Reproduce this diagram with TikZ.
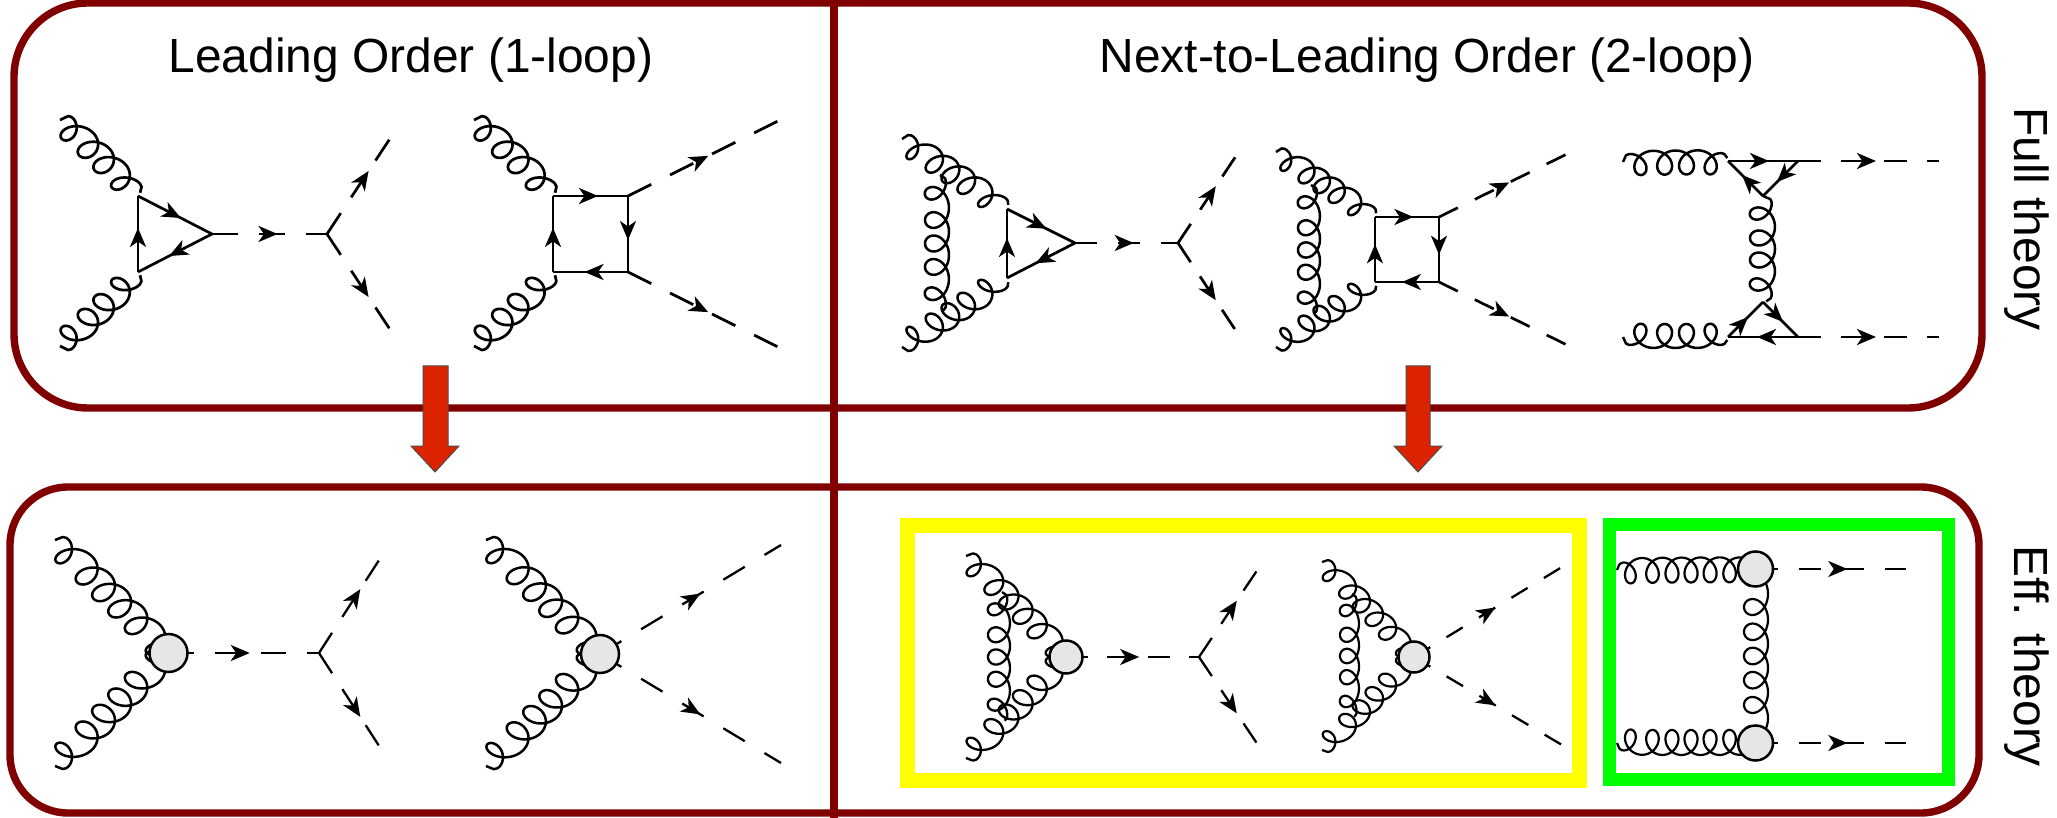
\documentclass[tikz,border=0pt]{standalone}
\usepackage{fontspec}
\setmainfont{Liberation Sans}
\usetikzlibrary{arrows.meta,decorations.markings}
\definecolor{frameRed}{HTML}{800000}
\definecolor{arrowRed}{HTML}{DC2300}
\definecolor{blobGrey}{HTML}{E6E6E6}
\definecolor{boxYellow}{HTML}{FFFF00}
\definecolor{boxGreen}{HTML}{00FF00}
\tikzset{
  ftip/.tip={Stealth[length=9.5pt,width=8pt,inset=2.7pt]},
  frameline/.style={draw=frameRed,line width=3.7pt},
  feyn/.style={draw=black,line width=1.35pt},
  thin feyn/.style={draw=black,line width=1.15pt},
  arr/.style={postaction={decorate,decoration={markings,mark=at position #1 with {\arrow{ftip}}}}},
  sc/.style 2 args={dash pattern=on #1pt off #2pt},
  blob/.style={circle,draw=black,line width=1.25pt,fill=blobGrey,inner sep=0pt},
  label/.style={font=\fontsize{23.95}{28}\selectfont,text=black,inner sep=0pt},
  bigarrow/.style={fill=arrowRed,draw=black!70,line width=0.5pt}
}
% \gluon{x1}{y1}{x2}{y2}{loops}{loop depth}{hump}{side}{line width}
% \gC = compression of the middle, \gSkew = lean of the loops towards the start
\def\gC{0.2}\def\gSkew{0.18}
\newcommand{\gluon}[9]{%
  \pgfmathsetmacro\gL{veclen(#3-#1,#4-#2)}%
  \pgfmathsetmacro\gUx{(#3-#1)/\gL}%
  \pgfmathsetmacro\gUy{(#4-#2)/\gL}%
  \pgfmathsetmacro\gA{0.57*(1-\gC)*\gL/#5}%
  \pgfmathtruncatemacro\gS{#5*40+1}%
  \def\gG{(2*\t-1)}%
  \def\gF{(0.5+0.5*((1-\gC)*\gG+\gC*\gG*\gG*\gG*\gG*\gG))}%
  \def\gT{(360*#5*\t)}%
  \def\gU{(\gL*\gF+\gA*sin(\gT)-\gSkew*#6*(1-cos(\gT))/2)}%
  \def\gV{((#8)*(#6*(1-cos(\gT))/2-#7*1.016*(\t*(1-\t))/(\t*(1-\t)+0.004)))}%
  \draw[black,line width=#9pt,line join=round]
    plot[variable=\t,domain=0:1,samples=\gS]
    ({#1+\gUx*\gU-\gUy*\gV},{#2+\gUy*\gU+\gUx*\gV});%
}
\begin{document}
\begin{tikzpicture}[x=0.5pt,y=-0.5pt]
\useasboundingbox (0,0) rectangle (2057,818);
\fill[white] (0,0) rectangle (2057,818);

% coloured boxes
\draw[boxYellow,line width=7.5pt] (907.5,525.5) rectangle (1579,780);
\draw[boxGreen,line width=6.5pt] (1609,524.5) rectangle (1948.5,779.5);

% frames
\draw[frameline,rounded corners=37pt] (14,3) rectangle (1982,408);
\draw[frameline,rounded corners=29pt] (10,487) rectangle (1979,813);
\draw[frameline] (834,0) -- (834,818);

% labels
\node[label] (lo) at (411,60) {Leading Order (1-loop)};
\node[label] (nlo) at (1427,60) {Next-to-Leading Order (2-loop)};
\node[label,rotate=-90] (full) at (2027,219) {Full theory};
\node[label,rotate=-90] (eff) at (2027,656) {Eff. theory};

% red arrows
\draw[bigarrow] (423,366) -- (448,366) -- (448,446) -- (459,446) -- (435,472) -- (411,446) -- (423,446) -- cycle;
\draw[bigarrow] (1406,366) -- (1430,366) -- (1430,446) -- (1442,446) -- (1418,472) -- (1394,446) -- (1406,446) -- cycle;

%%% Diagram A: LO triangle
\coordinate (a1) at (138,196); \coordinate (a2) at (138,272); \coordinate (a3) at (212,234);
\coordinate (a4) at (327,234); \coordinate (a5) at (393,134); \coordinate (a6) at (393,334);
\def\gC{0.2}\def\gSkew{0.18}
\gluon{60}{120}{138}{196}{4}{26}{14}{1}{1.35}
\gluon{60}{346}{138}{272}{4}{26}{14}{-1}{1.35}
\draw[feyn,arr=.58] (a1) -- (a3);
\draw[feyn,arr=.58] (a3) -- (a2);
\draw[feyn,arr=.58] (a2) -- (a1);
\draw[feyn,sc={13}{10.5},arr=.57] (a3) -- (a4);
\draw[feyn,sc={12.5}{9.5},arr=.63] (a4) -- (a5);
\draw[feyn,sc={12.5}{9.5},arr=.63] (a4) -- (a6);

%%% Diagram B: LO box
\coordinate (b1) at (553,196); \coordinate (b2) at (628,196); \coordinate (b3) at (628,272); \coordinate (b4) at (553,272);
\coordinate (b5) at (778,121); \coordinate (b6) at (778,347);
\gluon{474}{120}{553}{196}{4}{26}{14}{1}{1.35}
\gluon{474}{346}{553}{272}{4}{26}{14}{-1}{1.35}
\draw[feyn,arr=.6] (b1) -- (b2);
\draw[feyn,arr=.58] (b2) -- (b3);
\draw[feyn,arr=.58] (b3) -- (b4);
\draw[feyn,arr=.58] (b4) -- (b1);
\draw[feyn,sc={13}{10.5},arr=.535] (b2) -- (b5);
\draw[feyn,sc={13}{10.5},arr=.535] (b3) -- (b6);

%%% Diagram C: NLO triangle
\coordinate (c1) at (1007,209); \coordinate (c2) at (1007,278); \coordinate (c3) at (1075,243);
\coordinate (c4) at (1178,243); \coordinate (c5) at (1238,153); \coordinate (c6) at (1238,334);
\def\gC{0.25}\def\gSkew{0.18}
\gluon{902}{139}{1007}{209}{5}{25}{12}{1}{1.25}
\gluon{902}{347}{1007}{278}{5}{25}{12}{-1}{1.25}
\def\gC{0.15}\def\gSkew{0}
\gluon{940}{175}{940}{312}{5}{24}{9}{1}{1.25}
\draw[feyn,arr=.58] (c1) -- (c3);
\draw[feyn,arr=.58] (c3) -- (c2);
\draw[feyn,arr=.58] (c2) -- (c1);
\draw[feyn,sc={11}{10.5},arr=.57] (c3) -- (c4);
\draw[feyn,sc={11.5}{8.5},arr=.63] (c4) -- (c5);
\draw[feyn,sc={11.5}{8.5},arr=.63] (c4) -- (c6);

%%% Diagram D: NLO box
\coordinate (d1) at (1375,217); \coordinate (d2) at (1439,217); \coordinate (d3) at (1439,282); \coordinate (d4) at (1375,282);
\coordinate (d5) at (1569,153); \coordinate (d6) at (1569,346);
\def\gC{0.25}\def\gSkew{0.18}
\gluon{1276}{152}{1375}{217}{5}{23}{11}{1}{1.25}
\gluon{1276}{347}{1375}{282}{5}{23}{11}{-1}{1.25}
\def\gC{0.15}\def\gSkew{0}
\gluon{1311}{185}{1311}{315}{5}{22}{9}{1}{1.25}
\draw[feyn,arr=.6] (d1) -- (d2);
\draw[feyn,arr=.58] (d2) -- (d3);
\draw[feyn,arr=.58] (d3) -- (d4);
\draw[feyn,arr=.58] (d4) -- (d1);
\draw[feyn,sc={10.5}{9.5},arr=.54] (d2) -- (d5);
\draw[feyn,sc={10.5}{9.5},arr=.54] (d3) -- (d6);

%%% Diagram E: NLO two triangles
\coordinate (e1) at (1728,161); \coordinate (e2) at (1798,161); \coordinate (e3) at (1763,196);
\coordinate (e4) at (1728,337); \coordinate (e5) at (1798,337); \coordinate (e6) at (1763,302);
\coordinate (e7) at (1939,161); \coordinate (e8) at (1939,337);
\def\gC{0.17}\def\gSkew{0}
\gluon{1623}{162}{1728}{161}{4}{24}{11}{1}{1.25}
\gluon{1623}{337}{1728}{337}{4}{24}{11}{-1}{1.25}
\gluon{1763}{196}{1763}{302}{4}{25}{12}{1}{1.25}
\draw[feyn,arr=.586] (e1) -- (e2);
\draw[feyn,arr=.6] (e2) -- (e3);
\draw[feyn,arr=.6] (e3) -- (e1);
\draw[feyn,arr=.57] (e4) -- (e6);
\draw[feyn,arr=.57] (e6) -- (e5);
\draw[feyn,arr=.586] (e5) -- (e4);
\draw[feyn,sc={11.5}{10},arr=.553] (e2) -- (e7);
\draw[feyn,sc={11.5}{10},arr=.553] (e5) -- (e8);

%%% Diagram F: LO effective triangle
\coordinate (f4) at (319,653); \coordinate (f5) at (383,554); \coordinate (f6) at (383,752);
\def\gC{0.2}\def\gSkew{0.18}
\gluon{55}{540}{176}{662}{6}{29}{15}{1}{1.25}
\gluon{55}{766}{176}{644}{6}{29}{15}{-1}{1.25}
\draw[thin feyn,sc={12.5}{10.5},arr=.54] (168.5,653) -- (f4);
\draw[thin feyn,sc={12}{9.5},arr=.645] (f4) -- (f5);
\draw[thin feyn,sc={12}{9.5},arr=.645] (f4) -- (f6);
\node[blob,minimum size=19pt] (f0) at (168.5,653) {};

%%% Diagram G: LO effective box
\coordinate (g5) at (781,545); \coordinate (g6) at (781,763);
\gluon{486}{540}{607}{661}{6}{29}{15}{1}{1.25}
\gluon{486}{766}{607}{647}{6}{29}{15}{-1}{1.25}
\draw[thin feyn,sc={12.5}{11.5},arr=.555] (600,654) -- (g5);
\draw[thin feyn,sc={12.5}{11.5},arr=.555] (600,654) -- (g6);
\node[blob,minimum size=19pt] (g0) at (600,654) {};

%%% Diagram H: NLO effective triangle
\coordinate (h4) at (1199,657); \coordinate (h5) at (1258,569); \coordinate (h6) at (1258,745);
\gluon{966}{556}{1072}{663}{6}{25}{13}{1}{1.15}
\gluon{966}{758}{1072}{651}{6}{25}{13}{-1}{1.15}
\def\gC{0.15}\def\gSkew{0}
\gluon{1002}{592}{1002}{722}{5}{22}{8}{1}{1.15}
\draw[thin feyn,sc={11}{9.5},arr=.55] (1066,657) -- (h4);
\draw[thin feyn,sc={11.5}{8.5},arr=.64] (h4) -- (h5);
\draw[thin feyn,sc={11.5}{8.5},arr=.64] (h4) -- (h6);
\node[blob,minimum size=16.5pt] (h0) at (1066,657) {};

%%% Diagram I: NLO effective box
\coordinate (i5) at (1562,567); \coordinate (i6) at (1562,745);
\def\gC{0.2}\def\gSkew{0.18}
\gluon{1322}{562}{1420}{663}{6}{22}{11}{1}{1.1}
\gluon{1322}{750}{1420}{651}{6}{22}{11}{-1}{1.1}
\def\gC{0.15}\def\gSkew{0}
\gluon{1352}{594}{1352}{718}{5}{19}{7}{1}{1.1}
\draw[thin feyn,sc={9.5}{9.5},arr=.55] (1414,657) -- (i5);
\draw[thin feyn,sc={9.5}{9.5},arr=.55] (1414,657) -- (i6);
\node[blob,minimum size=15.5pt] (i0) at (1414,657) {};

%%% Diagram J: NLO effective bubble
\coordinate (j5) at (1906,569); \coordinate (j6) at (1906,743);
\def\gC{0.1}\def\gSkew{0}
\gluon{1617}{570}{1765}{569}{7}{25}{12}{1}{1.1}
\gluon{1617}{743}{1765}{743}{7}{25}{12}{-1}{1.1}
\gluon{1767}{562}{1767}{750}{7}{24}{1}{1}{1.1}
\draw[thin feyn,sc={11.25}{10.25},arr=.61] (1755.5,569) -- (j5);
\draw[thin feyn,sc={11.25}{10.25},arr=.61] (1755.5,743) -- (j6);
\node[blob,minimum size=17.5pt] (j1) at (1755.5,569) {};
\node[blob,minimum size=17.5pt] (j2) at (1755.5,743) {};
\end{tikzpicture}
\end{document}
